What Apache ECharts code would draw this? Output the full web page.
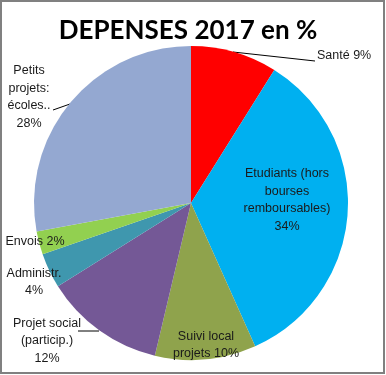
<!DOCTYPE html>
<html>
<head>
<meta charset="utf-8">
<script src="https://cdn.jsdelivr.net/npm/echarts@6/dist/echarts.min.js"></script>
<style>html,body{margin:0;padding:0;background:#fff}#c{width:386px;height:375px}</style>
</head>
<body>
<div id="c"></div>
<script>
var categories = ['Santé', 'Etudiants (hors\nbourses\nremboursables)', 'Suivi local\nprojets', 'Projet social\n(particip.)', 'Administr.', 'Envois', 'Petits\nprojets:\nécoles..'];
var values = [8.9, 34.4, 10.4, 12.4, 3.6, 2.4, 27.9];
var percentLabels = ['9%', '34%', '10%', '12%', '4%', '2%', '28%'];
var colors = ['#FF0000', '#00B0F0', '#8FA34C', '#745896', '#3F97AE', '#92D050', '#94A8D1'];

// label text joins (space or newline between name and percentage)
var joiners = [' ', '\n', ' ', '\n', '\n', ' ', '\n'];
// label placement (position/style only)
var spots = [
  {x: 317, y: 56, align: 'left', line: [[233, 52], [315, 61]]},
  {x: 287, y: 200, align: 'center'},
  {x: 206, y: 345, align: 'center'},
  {x: 47, y: 341, align: 'center', line: [[78, 331], [99, 331]]},
  {x: 34, y: 282, align: 'center'},
  {x: 35, y: 242, align: 'center'},
  {x: 29, y: 97, align: 'center', line: [[53, 110], [70, 104]]}
];

var data = values.map(function (v, i) {
  return {
    name: categories[i],
    value: v,
    itemStyle: {color: colors[i]},
    label: {formatter: categories[i] + joiners[i] + percentLabels[i]},
    labelLine: {show: !!spots[i].line}
  };
});

var chart = echarts.init(document.getElementById('c'), null, {renderer: 'canvas'});
chart.setOption({
  animation: false,
  backgroundColor: '#fff',
  title: {
    text: 'DEPENSES 2017 en %',
    left: 183, top: 13, textAlign: 'center',
    textStyle: {fontFamily: 'Lato', fontWeight: 'bold', fontSize: 26, color: '#000'}
  },
  graphic: [{
    type: 'rect', shape: {x: 1, y: 1, width: 383, height: 372},
    style: {fill: 'none', stroke: '#808080', lineWidth: 2}, z: 100
  }],
  series: [{
    type: 'pie',
    center: [191, 203],
    radius: [0, 157],
    startAngle: 90,
    clockwise: true,
    data: data,
    itemStyle: {borderWidth: 0},
    label: {
      show: true, position: 'outside', overflow: 'none', alignTo: 'none', width: 200,
      fontFamily: 'Liberation Sans', fontSize: 12.5, lineHeight: 17.5, color: '#1a1a1a'
    },
    labelLine: {show: true, length: 10, length2: 10, smooth: false, lineStyle: {color: '#000', width: 1}},
    labelLayout: function (p) {
      var s = spots[p.dataIndex];
      var o = {x: s.x, y: s.y, align: s.align, verticalAlign: 'middle'};
      if (s.line) { o.labelLinePoints = [s.line[0], s.line[0], s.line[1]]; }
      return o;
    }
  }]
});
</script>
</body>
</html>
